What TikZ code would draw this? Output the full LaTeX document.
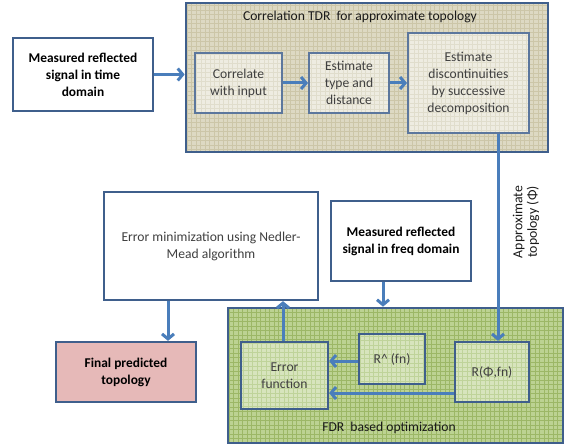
\documentclass[tikz,border=0pt]{standalone}
\usepackage{fontspec}
\setmainfont{Carlito}
\usetikzlibrary{arrows.meta,calc}
\definecolor{bord}{HTML}{3F5F8C}
\definecolor{arr}{HTML}{4A7EBB}
\definecolor{tanbg}{HTML}{DDD9C3}
\definecolor{tangrid}{HTML}{CCC6A8}
\definecolor{tanin}{HTML}{EEECE1}
\definecolor{taningrid}{HTML}{E0DDCC}
\definecolor{grnbg}{HTML}{BCD292}
\definecolor{grngrid}{HTML}{9CB766}
\definecolor{grnin}{HTML}{D7E4BD}
\definecolor{grningrid}{HTML}{BFD39A}
\definecolor{pinkbg}{HTML}{E6B9B8}
\tikzset{
  txt/.style={font=\fontsize{13.6}{17}\selectfont, text=black!75},
  boldtxt/.style={font=\fontsize{13.4}{17}\selectfont\bfseries, text=black},
  box/.style={draw=bord, line width=2.2pt, align=center, inner sep=2pt},
  gridfill/.style 2 args={fill=#1, path picture={\draw[#2, line width=0.5pt, step=4.5pt]
      (path picture bounding box.south west) grid (path picture bounding box.north east);}},
  cont/.style={draw=bord, line width=2.6pt},
  flow/.style={draw=arr, line width=3pt, -{Straight Barb[length=5pt,width=12pt]}}
}
\begin{document}
\begin{tikzpicture}[x=1pt,y=-1pt]
\useasboundingbox[fill=white] (0,0) rectangle (565,446);

% containers
\node[cont, gridfill={tanbg}{tangrid}, minimum width=362pt, minimum height=149pt] (tdr) at (367,77.5) {};
\node[txt, text=black!90] (tdrlab) at (360,17) {Correlation TDR \ for approximate topology};
\node[cont, gridfill={grnbg}{grngrid}, minimum width=335pt, minimum height=135pt] (fdr) at (395.5,375.5) {};
\node[txt, text=black!90] (fdrlab) at (389,428) {FDR \ based optimization};

% top boxes
\node[box, boldtxt, fill=white, minimum width=140pt, minimum height=73pt] (time) at (83,74.5) {Measured reflected\\signal in time\\domain};
\node[box, txt, draw=bord!85, line width=2pt, gridfill={tanin}{taningrid}, minimum width=87pt, minimum height=60pt] (corr) at (238.5,83) {Correlate\\with input};
\node[box, txt, draw=bord!85, line width=2pt, gridfill={tanin}{taningrid}, minimum width=80pt, minimum height=60pt] (esttype) at (349,83) {Estimate\\type and\\distance};
\node[box, txt, draw=bord!85, line width=2pt, gridfill={tanin}{taningrid}, minimum width=121pt, minimum height=100pt] (estdisc) at (468.5,83) {Estimate\\discontinuities\\by successive\\decomposition};

% middle boxes
\node[box, txt, fill=white, minimum width=214pt, minimum height=108pt] (errmin) at (211,246) {Error minimization using Nedler-\\Mead algorithm};
\node[box, boldtxt, fill=white, minimum width=140pt, minimum height=80pt] (freq) at (401,241) {Measured reflected\\signal in freq domain};
\node[box, boldtxt, fill=pinkbg, minimum width=140pt, minimum height=60pt] (final) at (126,372) {Final predicted\\topology};

% FDR inner boxes
\node[box, txt, gridfill={grnin}{grningrid}, minimum width=87pt, minimum height=67pt] (errfun) at (284.5,375.5) {Error\\function};
\node[box, txt, gridfill={grnin}{grningrid}, minimum width=66pt, minimum height=50pt] (rhat) at (392,359) {R\textasciicircum\ (fn)};
\node[box, txt, gridfill={grnin}{grningrid}, minimum width=74pt, minimum height=60pt] (rphi) at (492,372) {R(Φ,fn)};

% label
\node[txt, text=black!90, rotate=90, align=center, font=\fontsize{13.8}{14.5}\selectfont] (apx) at (526,222) {Approximate\\topology (Φ)};

% connectors
\draw[flow] (time.east) -- (time.east -| tdr.west);
\draw[flow] (corr.east) -- (esttype.west);
\draw[flow] (esttype.east) -- (esttype.east -| estdisc.west);
\draw[flow] ([xshift=29.5pt]estdisc.south) -- ([xshift=29.5pt]estdisc.south |- rphi.north);
\draw[flow] ([xshift=-43pt]errmin.south) -- ([xshift=-43pt]errmin.south |- final.north);
\draw[flow] ([xshift=-1.5pt]errfun.north) -- ([xshift=-1.5pt]errfun.north |- errmin.south);
\draw[flow] ([xshift=-18pt]freq.south) -- ([xshift=-18pt]freq.south |- fdr.north);
\draw[flow] ([yshift=-2pt]rhat.west) -- ([yshift=-2pt]rhat.west -| errfun.east);
\draw[flow] ([yshift=-21pt]rphi.west) -- ([yshift=-21pt]rphi.west -| errfun.east);
\end{tikzpicture}
\end{document}
